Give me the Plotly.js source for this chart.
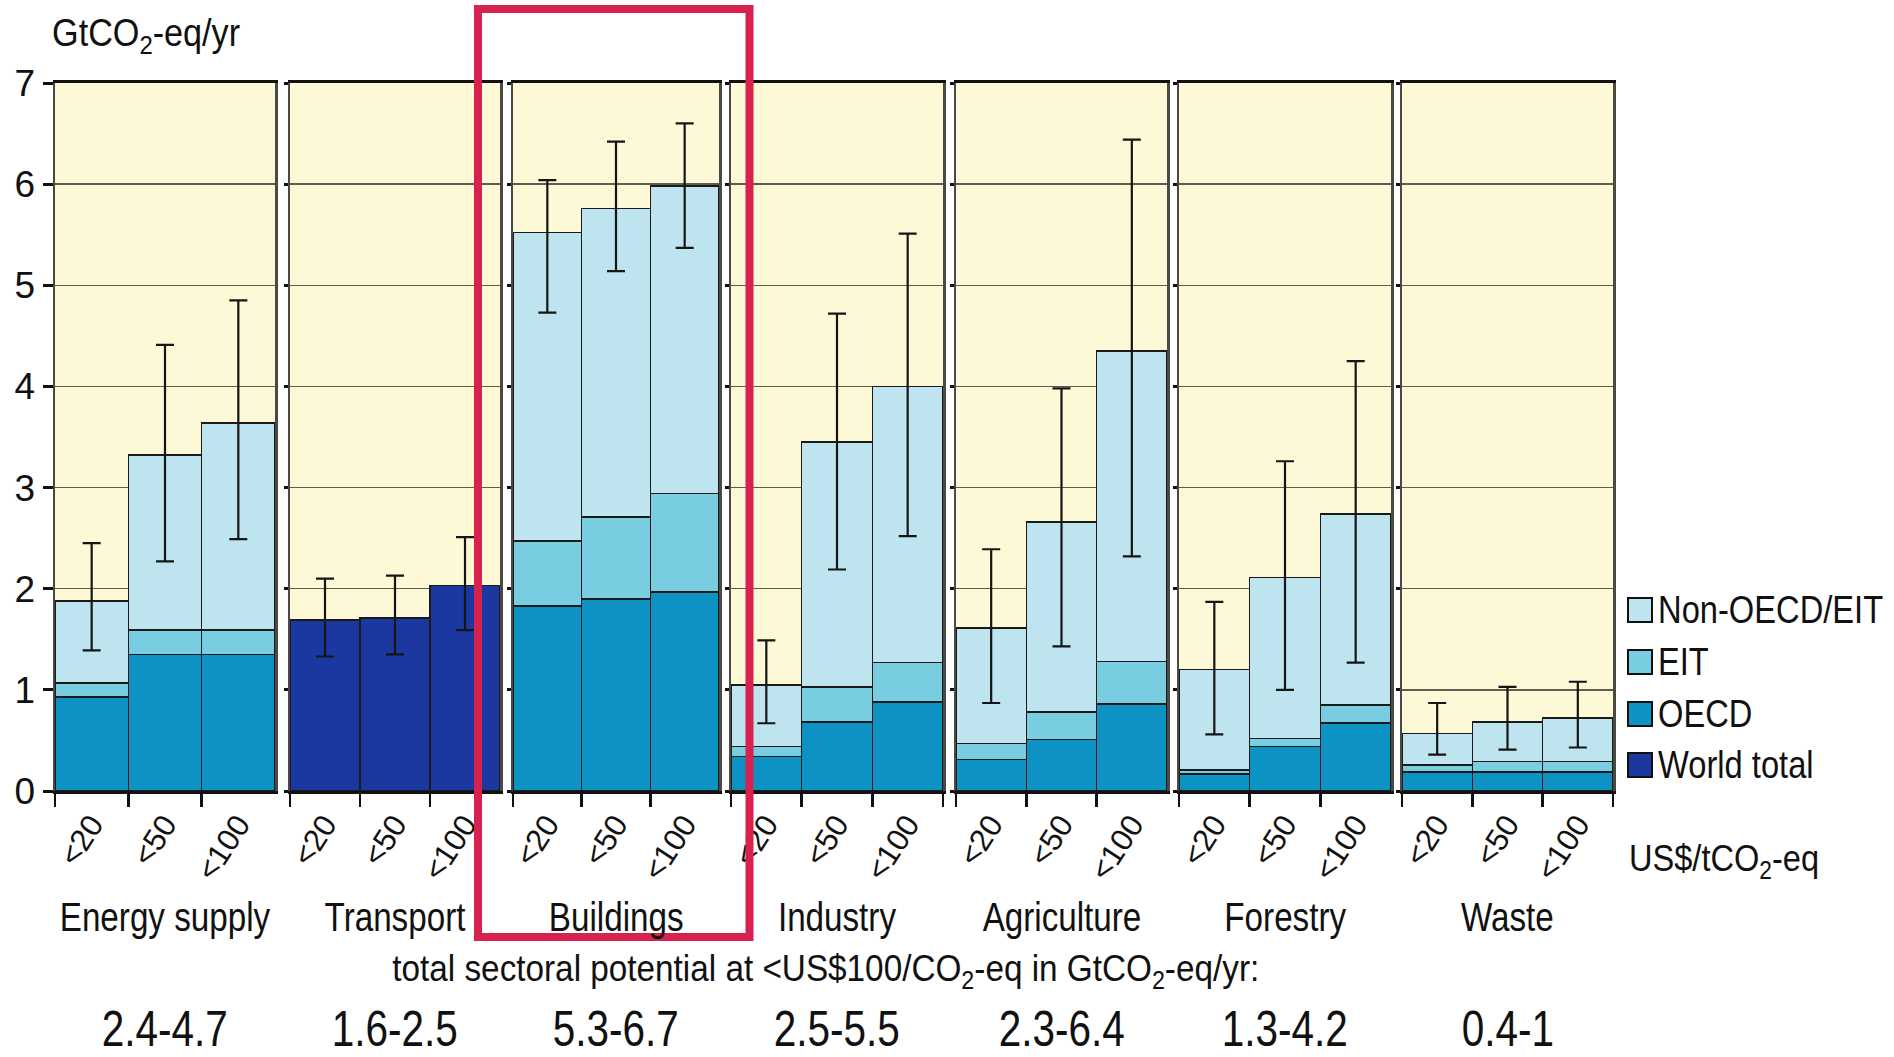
<!DOCTYPE html>
<html>
<head>
<meta charset="utf-8">
<script src="https://cdn.plot.ly/plotly-3.0.1.min.js"></script>
<style>
  html, body { margin: 0; padding: 0; background: #ffffff; }
  #chart { width: 1894px; height: 1057px; }
</style>
</head>
<body>
<div id="chart"></div>
<script>
// ---------------- DATA ----------------
const sectors    = ["Energy supply", "Transport", "Buildings", "Industry", "Agriculture", "Forestry", "Waste"];
const potentials = ["2.4-4.7", "1.6-2.5", "5.3-6.7", "2.5-5.5", "2.3-6.4", "1.3-4.2", "0.4-1"];
const costLevels = ["<20", "<50", "<100"];
const seriesNames = ["Non-OECD/EIT", "EIT", "OECD", "World total"];

// stacked segment values (GtCO2-eq/yr), per sector, per cost level
const oecd       = [[0.93, 1.35, 1.35], null, [1.83, 1.90, 1.97], [0.34, 0.68, 0.88], [0.31, 0.51, 0.86], [0.17, 0.44, 0.67], [0.19, 0.19, 0.19]];
const eit        = [[0.14, 0.24, 0.24], null, [0.64, 0.81, 0.97], [0.10, 0.35, 0.39], [0.16, 0.27, 0.42], [0.04, 0.08, 0.18], [0.07, 0.10, 0.10]];
const nonOecd    = [[0.81, 1.73, 2.05], null, [3.05, 3.05, 3.04], [0.61, 2.42, 2.73], [1.14, 1.88, 3.07], [0.99, 1.59, 1.89], [0.31, 0.39, 0.43]];
const worldTotal = [null, [1.69, 1.71, 2.03], null, null, null, null, null];

// uncertainty ranges (low / high)
const errLow  = [[1.39, 2.27, 2.49], [1.33, 1.35, 1.59], [4.73, 5.14, 5.37], [0.67, 2.19, 2.52], [0.87, 1.43, 2.32], [0.56, 1.00, 1.27], [0.36, 0.41, 0.43]];
const errHigh = [[2.45, 4.41, 4.85], [2.10, 2.13, 2.51], [6.04, 6.42, 6.60], [1.49, 4.72, 5.51], [2.39, 3.98, 6.44], [1.87, 3.26, 4.25], [0.87, 1.03, 1.08]];

const yTicks = [0, 1, 2, 3, 4, 5, 6, 7];

// ---------------- STYLE ----------------
const W = 1894, H = 1057;
const colors = { "Non-OECD/EIT": "#BEE5EF", "EIT": "#78CDE0", "OECD": "#0C93C3", "World total": "#1A38A0" };
const FONT = "Liberation Sans, Arial, Helvetica, sans-serif";
const panelPx = [[55, 275], [290, 500], [513, 719], [731, 943], [956, 1167], [1179, 1391], [1402, 1613]];
const yDomain = [(H - 791) / H, (H - 83) / H];

const traces = [];
const annScale = [];   // horizontal condensing factor per annotation (narrow type look)
const layout = {
  width: W, height: H, autosize: false,
  margin: { l: 0, r: 0, t: 0, b: 0, pad: 0 },
  paper_bgcolor: "#ffffff",
  plot_bgcolor: "#FDF8D5",
  barmode: "stack",
  bargap: 0,
  showlegend: false,
  font: { family: FONT, color: "#111111" },
  annotations: [],
  shapes: []
};
function addAnn(a, s) { layout.annotations.push(a); annScale.push(s); }

sectors.forEach((name, i) => {
  const n = i + 1;
  const xa = "x" + (n === 1 ? "" : n);
  const ya = "y" + (n === 1 ? "" : n);
  const stacks = [];
  if (worldTotal[i]) stacks.push(["World total", worldTotal[i]]);
  if (oecd[i]) stacks.push(["OECD", oecd[i]]);
  if (eit[i]) stacks.push(["EIT", eit[i]]);
  if (nonOecd[i]) stacks.push(["Non-OECD/EIT", nonOecd[i]]);
  stacks.forEach(([sname, vals]) => {
    traces.push({
      type: "bar", x: costLevels, y: vals, name: sname,
      xaxis: xa, yaxis: ya,
      marker: { color: colors[sname], line: { color: "#1a1a1a", width: 1.6 } },
      hoverinfo: "name+y"
    });
  });
  // stack totals anchor the uncertainty ranges
  const totals = costLevels.map((_, k) => stacks.reduce((s, [, v]) => s + v[k], 0));
  traces.push({
    type: "scatter", mode: "markers", x: costLevels, y: totals,
    xaxis: xa, yaxis: ya,
    marker: { size: 1, opacity: 0 },
    hoverinfo: "skip",
    error_y: {
      type: "data", symmetric: false,
      array: totals.map((t, k) => errHigh[i][k] - t),
      arrayminus: totals.map((t, k) => t - errLow[i][k]),
      color: "#151515", thickness: 2.2, width: 9
    }
  });

  const xKey = "xaxis" + (n === 1 ? "" : n);
  const yKey = "yaxis" + (n === 1 ? "" : n);
  layout[xKey] = {
    domain: [panelPx[i][0] / W, panelPx[i][1] / W],
    anchor: ya,
    type: "category",
    categoryorder: "array", categoryarray: costLevels,
    range: [-0.5, 2.5],
    tickson: "boundaries",
    ticks: "outside", ticklen: 13, tickwidth: 2.5, tickcolor: "#111",
    tickangle: -57,
    tickfont: { family: FONT, size: 31, color: "#111" },
    showline: true, linecolor: "#111", linewidth: 3, mirror: true,
    showgrid: false, zeroline: false, fixedrange: true
  };
  layout[yKey] = {
    domain: yDomain,
    anchor: xa,
    range: [0, 7],
    tickvals: yTicks,
    ticks: "outside",
    ticklen: n === 1 ? 10 : 4,
    tickwidth: 3, tickcolor: "#111",
    showticklabels: n === 1,
    tickfont: { family: FONT, size: 37, color: "#111" },
    showline: true, linecolor: "#4a4a44", linewidth: 2.5, mirror: true,
    showgrid: true, gridcolor: "#5e5c4c", gridwidth: 1.5,
    zeroline: false, fixedrange: true
  };

  // sector label
  addAnn({
    xref: xa + " domain", x: 0.5, yref: "paper", y: 1 - 917 / H,
    xanchor: "center", yanchor: "middle", showarrow: false,
    text: name, font: { family: FONT, size: 41, color: "#111" }
  }, 0.81);
  // total sectoral potential value
  addAnn({
    xref: xa + " domain", x: 0.5, yref: "paper", y: 1 - 1029 / H,
    xanchor: "center", yanchor: "middle", showarrow: false,
    text: potentials[i], font: { family: FONT, size: 50, color: "#111" }
  }, 0.81);
});

// y-axis unit
addAnn({
  xref: "paper", x: 50 / W, yref: "paper", y: 1 - 36 / H,
  xanchor: "left", yanchor: "middle", showarrow: false,
  text: "GtCO<sub>2</sub>-eq/yr", font: { family: FONT, size: 38, color: "#111" }
}, 0.9);
// subtitle
addAnn({
  xref: "paper", x: 826 / W, yref: "paper", y: 1 - 971 / H,
  xanchor: "center", yanchor: "middle", showarrow: false,
  text: "total sectoral potential at &lt;US$100/CO<sub>2</sub>-eq in GtCO<sub>2</sub>-eq/yr:",
  font: { family: FONT, size: 37, color: "#111" }
}, 0.9);
// cost unit
addAnn({
  xref: "paper", x: 1627 / W, yref: "paper", y: 1 - 861 / H,
  xanchor: "left", yanchor: "middle", showarrow: false,
  text: "US$/tCO<sub>2</sub>-eq", font: { family: FONT, size: 37, color: "#111" }
}, 0.88);

// legend (manual, large swatches)
const legendY = [610, 662, 714, 765];
seriesNames.forEach((s, k) => {
  const cy = legendY[k];
  layout.shapes.push({
    type: "rect", xref: "paper", yref: "paper",
    x0: 1628 / W, x1: 1652 / W, y0: 1 - (cy + 12) / H, y1: 1 - (cy - 12) / H,
    fillcolor: colors[s], line: { color: "#111", width: 2 }
  });
  addAnn({
    xref: "paper", x: 1656 / W, yref: "paper", y: 1 - cy / H,
    xanchor: "left", yanchor: "middle", showarrow: false,
    text: s, font: { family: FONT, size: 38, color: "#111" }
  }, 0.86);
});

// highlight frame around Buildings
layout.shapes.push({
  type: "rect", xref: "paper", yref: "paper",
  x0: 478 / W, x1: 749.5 / W, y0: 1 - 937 / H, y1: 1 - 9 / H,
  line: { color: "#D7214F", width: 8 }, fillcolor: "rgba(0,0,0,0)", layer: "above"
});

// condense annotation text horizontally around its anchor
function condense() {
  document.querySelectorAll("g.annotation").forEach(g => {
    const idx = +g.getAttribute("data-index");
    const s = annScale[idx];
    const t = g.querySelector("text.annotation-text");
    if (!t || !s || s === 1) return;
    const bb = t.getBBox();
    const anc = layout.annotations[idx].xanchor;
    const ax = anc === "left" ? bb.x : (anc === "right" ? bb.x + bb.width : bb.x + bb.width / 2);
    const prev = t.getAttribute("transform") || "";
    t.setAttribute("transform", (prev + " translate(" + ax + ",0) scale(" + s + ",1) translate(" + (-ax) + ",0)").trim());
  });
}

Plotly.newPlot("chart", traces, layout, { displayModeBar: false, staticPlot: true }).then(condense);
</script>
</body>
</html>
